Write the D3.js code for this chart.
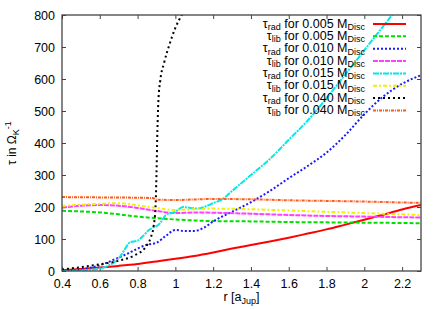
<!DOCTYPE html>
<html lang="en">
<head>
<meta charset="utf-8">
<title>tau vs r</title>
<script src="https://d3js.org/d3.v7.min.js"></script>
<style>
  body { margin: 0; background: #fff; }
  text { font-family: "Liberation Sans", Arial, Helvetica, sans-serif; fill: #000; }
</style>
</head>
<body>
<script>
// canvas and plot frame
const W = 442, H = 309;
const m = {left: 62, right: 21, top: 15, bottom: 38};

// tick values
const xTicks = [0.4, 0.6, 0.8, 1.0, 1.2, 1.4, 1.6, 1.8, 2.0, 2.2];
const yTicks = [0, 100, 200, 300, 400, 500, 600, 700, 800];

// shared r grid for the libration curves
const rLib = [0.4, 0.5, 0.6, 0.7, 0.8, 0.9, 1.0, 1.1, 1.2, 1.4, 1.6, 1.8, 2.0, 2.2, 2.3];
const tauLib005 = [188, 186, 183, 177, 170, 165, 161, 158, 156, 155, 153, 152, 151, 150, 149];
const tauLib010 = [198, 204, 206, 204, 197, 188, 181, 183, 182, 179, 175, 172, 170, 168, 167];
const tauLib015 = [203, 207, 210, 212, 205, 197, 191, 193, 195, 193, 189, 185, 181, 177, 175];

const rLib040 = [0.4, 0.6, 0.8, 0.88, 0.9, 1.0, 1.2, 1.4, 1.6, 1.8, 2.0, 2.2, 2.3];
const tauLib040 = [231, 230, 229, 228, 223, 222, 225, 224, 221, 219, 217, 214, 213];

// radiation curves
const rRad005 = [0.4, 0.5, 0.6, 0.7, 0.8, 0.9, 1.0, 1.1, 1.2, 1.3, 1.4, 1.5, 1.6, 1.7, 1.8, 1.9, 2.0, 2.1, 2.2, 2.3];
const tauRad005 = [2, 6, 11, 16, 22, 30, 38, 47, 58, 70, 81, 92, 104, 117, 130, 145, 160, 176, 192, 206];

const rRad010 = [0.4, 0.5, 0.6, 0.7, 0.75, 0.8, 0.85, 0.9, 0.95, 1.0, 1.05, 1.1, 1.15, 1.2, 1.3, 1.4, 1.5, 1.6, 1.7, 1.8, 1.9, 2.0, 2.1, 2.2, 2.3];
const tauRad010 = [0, 5, 18, 42, 55, 70, 82, 88, 110, 128, 125, 125, 135, 155, 185, 215, 250, 290, 328, 370, 425, 490, 545, 585, 612];

const rRad015 = [0.4, 0.5, 0.6, 0.65, 0.7, 0.73, 0.76, 0.8, 0.83, 0.86, 0.88, 0.9, 0.92, 0.95, 1.0, 1.04, 1.08, 1.12, 1.16, 1.2, 1.25, 1.3, 1.4, 1.5, 1.6, 1.7, 1.8, 1.9, 2.0, 2.1, 2.2];
const tauRad015 = [0, 2, 8, 18, 40, 65, 90, 95, 110, 128, 135, 140, 150, 175, 185, 200, 197, 195, 202, 212, 225, 250, 300, 350, 410, 470, 540, 615, 690, 765, 840];

const rRad040 = [0.4, 0.5, 0.6, 0.7, 0.78, 0.84, 0.87, 0.885, 0.895, 0.9, 0.905, 0.91, 0.92, 0.94, 0.97, 1.0, 1.02, 1.05];
const tauRad040 = [5, 12, 21, 32, 48, 73, 105, 140, 200, 300, 440, 530, 595, 650, 710, 760, 785, 815];

// legend order, with line style per curve
const series = [
  {kind: "rad", mass: "0.005", r: rRad005, t: tauRad005, color: "#ff0000", dash: null},
  {kind: "lib", mass: "0.005", r: rLib,    t: tauLib005, color: "#00e000", dash: "4,2"},
  {kind: "rad", mass: "0.010", r: rRad010, t: tauRad010, color: "#1a1aff", dash: "2,2"},
  {kind: "lib", mass: "0.010", r: rLib,    t: tauLib010, color: "#ff40ff", dash: "5,1"},
  {kind: "rad", mass: "0.015", r: rRad015, t: tauRad015, color: "#00e8e8", dash: "6,1,2,1"},
  {kind: "lib", mass: "0.015", r: rLib,    t: tauLib015, color: "#f0f000", dash: "4,2,2,2"},
  {kind: "rad", mass: "0.040", r: rRad040, t: tauRad040, color: "#000000", dash: "2,3"},
  {kind: "lib", mass: "0.040", r: rLib040, t: tauLib040, color: "#ff5a1a", dash: "3,1,1,1"}
];

const pw = W - m.left - m.right, ph = H - m.top - m.bottom;

const svg = d3.select("body").append("svg")
  .attr("width", W).attr("height", H);

const g = svg.append("g").attr("transform", `translate(${m.left},${m.top})`);

const x = d3.scaleLinear().domain([0.4, 2.3]).range([0, pw]);
const y = d3.scaleLinear().domain([0, 800]).range([ph, 0]);

svg.append("defs").append("clipPath").attr("id", "clip")
  .append("rect").attr("width", pw).attr("height", ph);

//axes, ticks pointing inward
const fmtX = d => d === 1 ? "1" : (d === 2 ? "2" : d3.format(".1f")(d));
const axisStyle = sel => {
  sel.select(".domain").remove();
  sel.selectAll(".tick line").attr("stroke", "#444");
  sel.selectAll(".tick text").attr("font-size", 12.5).attr("fill", "#000");
};

g.append("g").attr("transform", `translate(0,${ph})`)
  .call(d3.axisBottom(x).tickValues(xTicks).tickFormat(fmtX).tickSize(-4).tickPadding(8))
  .call(axisStyle);
g.append("g")
  .call(d3.axisLeft(y).tickValues(yTicks).tickSize(-4).tickPadding(7))
  .call(axisStyle);
g.append("g")
  .call(d3.axisTop(x).tickValues(xTicks).tickFormat("").tickSize(-4))
  .call(axisStyle);
g.append("g").attr("transform", `translate(${pw},0)`)
  .call(d3.axisRight(y).tickValues(yTicks).tickFormat("").tickSize(-4))
  .call(axisStyle);

g.selectAll(".tick text").attr("font-family", "Liberation Sans, Arial, sans-serif");

// curves
const line = d3.line().x(d => x(d[0])).y(d => y(d[1])).curve(d3.curveMonotoneX);
const plot = g.append("g").attr("clip-path", "url(#clip)");
plot.selectAll("path.curve")
  .data(series)
  .enter().append("path")
  .attr("class", "curve")
  .attr("d", s => line(s.r.map((r, i) => [r, s.t[i]])))
  .attr("fill", "none")
  .attr("stroke", s => s.color)
  .attr("stroke-width", 2)
  .attr("stroke-dasharray", s => s.dash);

// frame
g.append("rect").attr("width", pw).attr("height", ph)
  .attr("fill", "none").attr("stroke", "#444").attr("stroke-width", 1.3);

// legend
const leg = svg.append("g").selectAll("g")
  .data(series).enter().append("g")
  .attr("transform", (d, i) => `translate(0,${24 + i * 12.35})`);

leg.append("line")
  .attr("x1", 373).attr("x2", 406)
  .attr("stroke", d => d.color)
  .attr("stroke-width", 2)
  .attr("stroke-dasharray", d => d.dash);

const lt = leg.append("text")
  .attr("x", 365).attr("y", 3.5)
  .attr("text-anchor", "end")
  .attr("font-size", 12.5);
lt.append("tspan").text("\u03c4");
lt.append("tspan").attr("font-size", 9).attr("dy", 2.5).text(d => d.kind);
lt.append("tspan").attr("dy", -2.5).text(d => " for " + d.mass + " M");
lt.append("tspan").attr("font-size", 9).attr("dy", 2.5).text("Disc");

// axis titles
const xl = svg.append("text")
  .attr("x", m.left + pw / 2).attr("y", 301)
  .attr("text-anchor", "middle").attr("font-size", 12.5);
xl.append("tspan").text("r [a");
xl.append("tspan").attr("font-size", 9).attr("dy", 3).text("Jup");
xl.append("tspan").attr("dy", -3).text("]");

const yl = svg.append("text")
  .attr("transform", `translate(16,${m.top + ph / 2}) rotate(-90)`)
  .attr("text-anchor", "middle").attr("font-size", 12);
yl.append("tspan").text("\u03c4  in \u03a9");
yl.append("tspan").attr("font-size", 9).attr("dy", 3).text("K");
yl.append("tspan").attr("font-size", 9).attr("dy", -8).text("-1");
</script>
</body>
</html>
